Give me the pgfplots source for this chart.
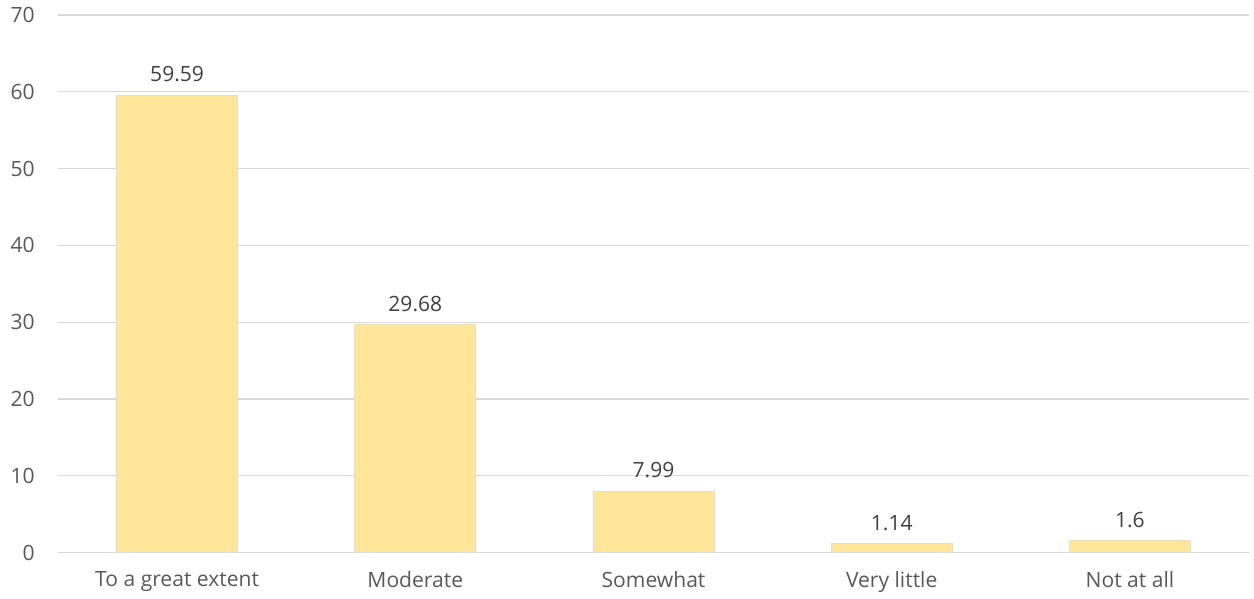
\documentclass[border=0pt]{standalone}
\usepackage{fontspec}
\setmainfont{Open Sans}
\usepackage{pgfplots}
\pgfplotsset{compat=1.18}
\usetikzlibrary{calc}

\definecolor{barfill}{HTML}{FFE699}
\definecolor{gridgray}{HTML}{D9D9D9}
\definecolor{ticktext}{HTML}{595959}
\definecolor{valtext}{HTML}{404040}

\begin{document}
\begin{tikzpicture}
    \begin{axis}[
            scale only axis,
            width=893pt,
            height=403pt,
            ymin=0, ymax=70,
            ytick={0,10,...,70},
            xmin=-0.5, xmax=4.5,
            xtick=data,
            xticklabels={To a great extent, Moderate, Somewhat, Very little, Not at all},
            axis x line*=bottom,
            axis y line*=left,
            x axis line style={gridgray, line width=0.9pt, -},
            y axis line style={draw=none},
            ymajorgrids,
            grid style={gridgray, line width=0.9pt},
            major tick length=0pt,
            tick style={draw=none},
            font=\fontsize{15.8}{18}\selectfont,
            tick label style={text=ticktext},
            yticklabel style={anchor=east, xshift=-14pt},
            xticklabel style={yshift=-11pt},
            /pgf/number format/assume math mode=true,
            ybar,
            bar width=90.75pt,
            nodes near coords,
            nodes near coords style={text=valtext, yshift=6pt,
                /pgf/number format/.cd, fixed, precision=2},
            clip=false,
        ]
        \addplot[fill=barfill, draw=black!13, line width=0.6pt] coordinates {
            (0,59.59)
            (1,29.68)
            (2,7.99)
            (3,1.14)
            (4,1.6)
        };
    \end{axis}
    \pgfresetboundingbox
    \path[use as bounding box] ($(current axis.south west)+(-43.5pt,-34.5pt)$) rectangle ($(current axis.north east)+(3.75pt,11.25pt)$);
\end{tikzpicture}
\end{document}
